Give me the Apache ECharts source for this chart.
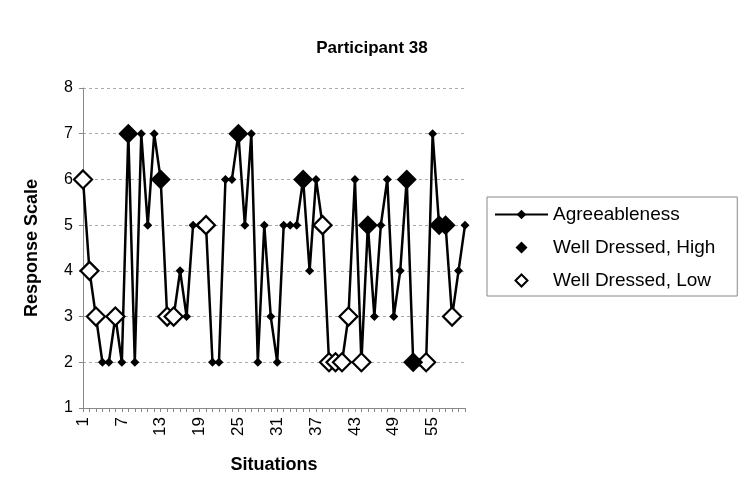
<!DOCTYPE html>
<html>
<head>
<meta charset="utf-8">
<title>Participant 38</title>
<script src="https://cdn.jsdelivr.net/npm/echarts@6/dist/echarts.min.js"></script>
<style>
  html, body { margin: 0; padding: 0; background: #fff; }
  #chart { width: 744px; height: 479px; }
</style>
</head>
<body>
<div id="chart"></div>
<script>
// Situation numbers along the x axis
const situations = [];
for (let i = 1; i <= 60; i++) situations.push(String(i));

// Agreeableness rating for each situation (1-8 response scale)
const agreeableness = [
  6, 4, 3, 2, 2, 3, 2, 7, 2, 7,
  5, 7, 6, 3, 3, 4, 3, 5, 5, 5,
  2, 2, 6, 6, 7, 5, 7, 2, 5, 3,
  2, 5, 5, 5, 6, 4, 6, 5, 2, 2,
  2, 3, 6, 2, 5, 3, 5, 6, 3, 4,
  6, 2, 2, 2, 7, 5, 5, 3, 4, 5
];

// Situations with a well-dressed (high) target, and their ratings
const highSituations = [8, 13, 25, 35, 45, 51, 52, 56, 57];
const highValues     = [7, 6, 7, 6, 5, 6, 2, 5, 5];

// Situations with a poorly dressed (low) target, and their ratings
const lowSituations = [1, 2, 3, 6, 14, 15, 20, 38, 39, 40, 41, 42, 44, 54, 58];
const lowValues     = [6, 4, 3, 3, 3, 3, 5, 5, 2, 2, 2, 3, 2, 2, 3];

const FONT = '"Liberation Sans", Arial, Helvetica, sans-serif';

const highData = highSituations.map((s, i) => [String(s), highValues[i]]);
const lowData = lowSituations.map((s, i) => [String(s), lowValues[i]]);

// Legend key: a 12px diamond centred in a 53x12 box (tiny corner strokes fix the box size)
const LEGEND_DIAMOND = 'path://M0,0L0.01,0M53,12L52.99,12M26.5,0L32.5,6L26.5,12L20.5,6Z';

const chart = echarts.init(document.getElementById('chart'), null, { renderer: 'canvas' });

chart.setOption({
  backgroundColor: '#fff',
  animation: false,
  title: {
    text: 'Participant 38',
    left: 'center',
    top: 35,
    textStyle: { fontFamily: FONT, fontWeight: 'bold', fontSize: 17, color: '#000' }
  },
  grid: { left: 83, right: 279, top: 88, bottom: 71, containLabel: false },
  legend: {
    orient: 'vertical',
    left: 487,
    top: 197,
    padding: [8, 22, 6, 7],
    itemGap: 14,
    itemWidth: 53,
    itemHeight: 12,
    borderColor: '#888',
    borderWidth: 1,
    textStyle: { fontFamily: FONT, fontSize: 19, color: '#000' },
    data: [
      { name: 'Agreeableness' },
      { name: 'Well Dressed, High', icon: LEGEND_DIAMOND },
      { name: 'Well Dressed, Low', icon: LEGEND_DIAMOND }
    ]
  },
  xAxis: {
    type: 'category',
    data: situations,
    boundaryGap: false,
    name: 'Situations',
    nameLocation: 'middle',
    nameGap: 48,
    nameTextStyle: { fontFamily: FONT, fontWeight: 'bold', fontSize: 18, color: '#000' },
    axisLine: { lineStyle: { color: '#888', width: 1 } },
    axisTick: { show: true, interval: 0, length: 4, lineStyle: { color: '#888' } },
    axisLabel: {
      interval: 5,
      rotate: 90,
      margin: 9,
      fontFamily: FONT,
      fontSize: 17,
      color: '#000'
    },
    splitLine: { show: false }
  },
  yAxis: {
    type: 'value',
    min: 1,
    max: 8,
    interval: 1,
    name: 'Response Scale',
    nameLocation: 'middle',
    nameGap: 42,
    nameTextStyle: { fontFamily: FONT, fontWeight: 'bold', fontSize: 18, color: '#000' },
    axisLine: { show: true, lineStyle: { color: '#888', width: 1 } },
    axisTick: { show: true, length: 4, lineStyle: { color: '#888' } },
    axisLabel: { margin: 10, fontFamily: FONT, fontSize: 16, color: '#000' },
    splitLine: { show: true, lineStyle: { color: '#aaa', type: [3, 3], width: 1 } }
  },
  series: [
    {
      name: 'Agreeableness',
      type: 'line',
      data: agreeableness,
      symbol: 'diamond',
      symbolSize: 9,
      showAllSymbol: true,
      itemStyle: { color: '#000' },
      lineStyle: { color: '#000', width: 2.5 },
      z: 2
    },
    {
      name: 'Well Dressed, High',
      type: 'scatter',
      data: highData,
      symbol: 'diamond',
      symbolSize: 20,
      itemStyle: { color: '#000', opacity: 1 },
      z: 4
    },
    {
      name: 'Well Dressed, Low',
      type: 'scatter',
      data: lowData,
      symbol: 'diamond',
      symbolSize: 18,
      itemStyle: { color: '#fff', borderColor: '#000', borderWidth: 2.2, opacity: 1 },
      z: 3
    }
  ]
});
</script>
</body>
</html>
